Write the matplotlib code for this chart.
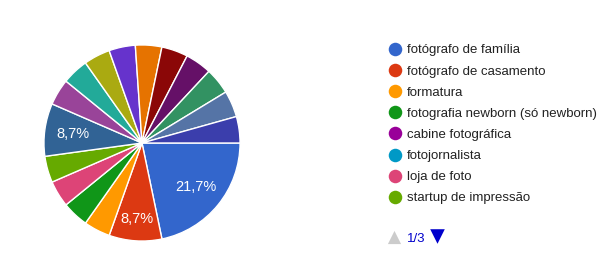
import matplotlib.pyplot as plt

# legend page 1/3 (only these names are visible)
legend_names = ['fotógrafo de família', 'fotógrafo de casamento', 'formatura',
                'fotografia newborn (só newborn)', 'cabine fotográfica',
                'fotojornalista', 'loja de foto', 'startup de impressão']

# answer counts per category, in chart order (23 answers)
counts = [5, 2, 1, 1, 0, 0, 1, 1, 0, 2, 1, 1, 1, 1, 1, 1, 1, 1, 1, 1]
colors = ['#3366cc', '#dc3912', '#ff9900', '#109618', '#990099', '#0099c6',
          '#dd4477', '#66aa00', '#b82e2e', '#316395', '#994499', '#22aa99',
          '#aaaa11', '#6633cc', '#e67300', '#8b0707', '#651067', '#329262',
          '#5574a6', '#3b3eac']

plt.rcParams['font.family'] = ['Liberation Sans', 'DejaVu Sans']

W, H = 613, 270
fig = plt.figure(figsize=(W / 100, H / 100), dpi=100)

# drop empty slices so they don't leave white lines
vals = [c for c in counts if c > 0]
cols = [col for c, col in zip(counts, colors) if c > 0]

cx, cy, r = 142, 143, 100
ax = fig.add_axes([(cx - r) / W, (H - cy - r) / H, 2 * r / W, 2 * r / H])
wedges, texts, autotexts = ax.pie(
    vals, colors=cols, startangle=0, counterclock=False, radius=1,
    autopct=lambda p: ('%.1f%%' % p).replace('.', ',') if p > 6 else '',
    pctdistance=0.71,
    wedgeprops=dict(edgecolor='white', linewidth=1),
    textprops=dict(color='white', fontsize=10.5))
# the bottom label sits a bit further out in the original
px, py = autotexts[1].get_position()
autotexts[1].set_position((px * 1.1, py * 1.1))
ax.set_xlim(-1.02, 1.02)
ax.set_ylim(-1.02, 1.02)
ax.set_aspect('equal')
ax.axis('off')

# legend drawn in pixel space
lg = fig.add_axes([0, 0, 1, 1])
lg.set_xlim(0, W)
lg.set_ylim(H, 0)
lg.axis('off')
y0, dy = 49, 21.1
for i, name in enumerate(legend_names):
    y = y0 + i * dy
    lg.scatter([395], [y], s=95, color=colors[i], marker='o', linewidths=0)
    lg.text(407, y, name, fontsize=9.5, color='#222222', va='center_baseline', ha='left')

lg.scatter([394], [237], s=90, marker='^', color='#cccccc', linewidths=0)
lg.text(407, 237, '1/3', fontsize=9.5, color='#0000cc', va='center_baseline', ha='left')
lg.scatter([437], [236], s=110, marker='v', color='#0000cc', linewidths=0)

fig.savefig('out.png', dpi=100)
